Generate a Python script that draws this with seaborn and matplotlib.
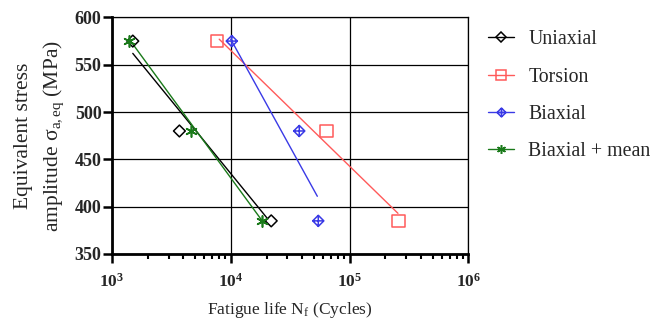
import matplotlib
matplotlib.use("Agg")
import matplotlib.pyplot as plt
from matplotlib.lines import Line2D
from matplotlib.path import Path
import seaborn as sns
import pandas as pd

# values
series = ["Uniaxial", "Torsion", "Biaxial", "Biaxial + mean"]
stress = [575, 480, 385]
life_uniaxial = [1500, 3700, 21900]
life_torsion = [7700, 64000, 258000]
life_biaxial = [10200, 37700, 54500]
life_biaxial_mean = [1400, 4600, 18400]

# end points of the fitted lines
fit_life_uniaxial = [1500, 20500]
fit_stress_uniaxial = [562, 387]
fit_life_torsion = [8000, 255000]
fit_stress_torsion = [577, 393]
fit_life_biaxial = [10000, 53500]
fit_stress_biaxial = [577, 411]
fit_life_biaxial_mean = [1400, 18400]
fit_stress_biaxial_mean = [577, 385]

xticks = [1e3, 1e4, 1e5, 1e6]
xtick_labels = [r"$\mathbf{10^{3}}$", r"$\mathbf{10^{4}}$", r"$\mathbf{10^{5}}$", r"$\mathbf{10^{6}}$"]
yticks = [350, 400, 450, 500, 550, 600]

sns.set_theme(style="ticks")
plt.rcParams["font.family"] = ["Liberation Serif", "DejaVu Serif"]
plt.rcParams["mathtext.fontset"] = "custom"
plt.rcParams["mathtext.rm"] = "Liberation Serif"
plt.rcParams["mathtext.it"] = "Liberation Serif:italic"
plt.rcParams["mathtext.bf"] = "Liberation Serif:bold"

# diamond with a cross inside, for the biaxial points
cross_diamond = Path(
    [(0, 1), (1, 0), (0, -1), (-1, 0), (0, 1), (0, 1), (0, -1), (-1, 0), (1, 0)],
    [Path.MOVETO, Path.LINETO, Path.LINETO, Path.LINETO, Path.CLOSEPOLY,
     Path.MOVETO, Path.LINETO, Path.MOVETO, Path.LINETO],
)

colors = ["black", "#ff5a5a", "#3a3ae6", "#1a7a1a"]
markers = ["D", "s", cross_diamond, (6, 2, 0)]
msizes = [6, 9, 8, 8]
lives = [life_uniaxial, life_torsion, life_biaxial, life_biaxial_mean]
fit_lives = [fit_life_uniaxial, fit_life_torsion, fit_life_biaxial, fit_life_biaxial_mean]
fit_stresses = [fit_stress_uniaxial, fit_stress_torsion, fit_stress_biaxial, fit_stress_biaxial_mean]

fig = plt.figure(figsize=(6.58, 3.29), dpi=100)
ax = fig.add_axes([0.170, 0.228, 0.542, 0.719])

for name, c, m, ms, life, fl, fs in zip(series, colors, markers, msizes, lives, fit_lives, fit_stresses):
    df_fit = pd.DataFrame({"N": fl, "S": fs})
    sns.lineplot(data=df_fit, x="N", y="S", ax=ax, color=c, lw=1.0, zorder=3)
    df_pts = pd.DataFrame({"N": life, "S": stress})
    if m == (6, 2, 0):
        sns.scatterplot(data=df_pts, x="N", y="S", ax=ax, marker=m, s=ms ** 2,
                        color=c, linewidth=1.2, zorder=4)
    else:
        sns.scatterplot(data=df_pts, x="N", y="S", ax=ax, marker=m, s=ms ** 2,
                        facecolor="none", edgecolor=c, linewidth=1.1, zorder=4)

ax.set_xscale("log")
ax.set_xlim(1e3, 1e6)
ax.set_ylim(350, 600)
ax.set_xticks(xticks)
ax.set_xticklabels(xtick_labels)
ax.set_yticks(yticks)
ax.set_yticklabels([str(v) for v in yticks], fontweight="bold")
ax.grid(True, which="major", color="black", lw=0.9)
ax.tick_params(axis="both", which="major", direction="out", length=6.5, width=1.8,
               labelsize=13, color="black", pad=1)
ax.tick_params(axis="x", which="major", labelsize=12.5, pad=7)
ax.tick_params(axis="x", which="minor", direction="out", length=3.5, width=1.5, color="black")
for side in ["left", "bottom"]:
    ax.spines[side].set_linewidth(2)
    ax.spines[side].set_color("black")
for side in ["top", "right"]:
    ax.spines[side].set_linewidth(0.9)
    ax.spines[side].set_color("black")

ax.set_xlabel(r"Fatigue life N$_\mathregular{f}$ (Cycles)", fontsize=12.5, labelpad=7)
ax.set_ylabel("Equivalent stress\n" + r"amplitude $\mathregular{\sigma_{a,eq}}$ (MPa)",
              fontsize=15.5, labelpad=6, linespacing=1.55)

handles = []
for c, m, ms in zip(colors, markers, msizes):
    if m == (6, 2, 0):
        h = Line2D([0], [0], color=c, lw=1.0, marker=m, markersize=ms * 0.8, mew=1.1)
    else:
        h = Line2D([0], [0], color=c, lw=1.0, marker=m, markersize=ms * 0.8,
                   markerfacecolor="none", markeredgecolor=c, mew=1.1)
    handles.append(h)
fig.legend(handles, series, loc="upper left", bbox_to_anchor=(0.714, 0.962),
           frameon=False, fontsize=14.3, handlelength=1.3, handletextpad=0.75,
           labelspacing=0.92)

fig.savefig("out.png", dpi=100)
